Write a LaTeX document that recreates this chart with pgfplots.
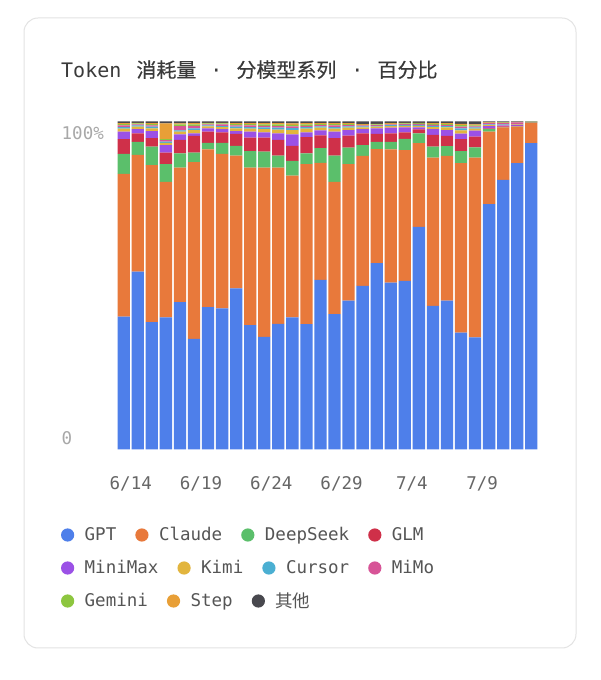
\documentclass[border=0pt]{standalone}
\usepackage{fontspec}
\setmainfont{DejaVu Sans Mono}
\newfontfamily\cjk{Noto Sans CJK SC}
\newfontfamily\cjkt[FakeBold=0.4]{Noto Sans CJK SC}
\usepackage{pgfplots}
\usepackage{pgfplotstable}
\pgfplotsset{compat=1.18}
\definecolor{cGPT}{HTML}{4E7FEA}
\definecolor{cClaude}{HTML}{E8793B}
\definecolor{cDS}{HTML}{5BBF6B}
\definecolor{cGLM}{HTML}{CF3049}
\definecolor{cMM}{HTML}{9B51E6}
\definecolor{cKimi}{HTML}{E2B53E}
\definecolor{cCur}{HTML}{4BAFD2}
\definecolor{cMiMo}{HTML}{D75497}
\definecolor{cGem}{HTML}{8DC63F}
\definecolor{cStep}{HTML}{E89F37}
\definecolor{cOth}{HTML}{48484E}
\definecolor{cTitle}{HTML}{3A3A3A}
\definecolor{cLeg}{HTML}{555555}
\definecolor{cXT}{HTML}{666666}
\definecolor{cYT}{HTML}{A8A8A8}
\definecolor{cCard}{HTML}{E3E3E3}
\pgfplotstableread{
x gpt claude ds glm mm kimi cur mimo gem step oth
0 40.5 43.5 6.1 4.5 2.3 0.9 0.5 0.5 0.4 0.3 0.5
1 54.2 35.6 4.0 2.6 1.3 0.7 0.4 0.3 0.3 0.2 0.4
2 38.8 47.9 5.6 2.6 2.2 0.8 0.5 0.4 0.4 0.3 0.5
3 40.3 41.3 5.4 3.5 2.3 0.7 0.4 0.4 0.3 4.8 0.6
4 44.9 41.0 4.4 4.1 1.7 0.8 0.4 1.3 0.5 0.3 0.6
5 33.7 53.9 2.9 5.1 0.8 1.0 0.5 0.8 0.4 0.4 0.5
6 43.4 48.1 2.0 3.4 1.0 0.6 0.3 0.3 0.3 0.2 0.4
7 43.0 47.1 3.4 3.2 1.0 0.6 0.3 0.5 0.3 0.2 0.4
8 49.1 40.5 3.0 3.6 0.9 0.8 0.5 0.4 0.4 0.3 0.5
9 37.9 48.0 5.1 4.1 1.8 0.9 0.5 0.5 0.4 0.3 0.5
10 34.3 51.6 4.9 4.3 1.6 1.0 0.5 0.5 0.4 0.4 0.5
11 38.3 47.6 3.7 4.8 2.0 1.1 0.6 0.5 0.5 0.4 0.5
12 40.3 43.2 4.5 4.6 3.5 1.3 0.6 0.5 0.5 0.4 0.6
13 38.2 48.8 3.3 4.9 1.5 1.1 0.5 0.4 0.4 0.4 0.5
14 51.7 35.7 4.5 3.9 1.5 0.8 0.4 0.4 0.3 0.3 0.5
15 41.3 40.3 8.0 5.3 2.0 0.9 0.5 0.5 0.4 0.3 0.5
16 45.4 41.6 5.0 3.7 1.7 0.7 0.4 0.4 0.3 0.3 0.5
17 49.9 39.6 3.3 3.6 1.3 0.5 0.3 0.3 0.2 0.2 0.8
18 56.8 34.8 2.2 2.4 1.7 0.5 0.3 0.2 0.2 0.2 0.7
19 50.9 40.6 2.3 2.6 1.7 0.5 0.3 0.2 0.2 0.2 0.5
20 51.4 39.9 3.4 2.0 1.5 0.5 0.3 0.2 0.2 0.2 0.4
21 67.9 25.5 3.0 1.2 0.6 0.5 0.3 0.3 0.2 0.1 0.4
22 43.8 45.2 3.3 3.6 1.8 0.6 0.4 0.3 0.3 0.2 0.5
23 45.4 44.1 3.0 3.1 1.8 0.8 0.4 0.3 0.3 0.3 0.5
24 35.6 51.7 3.7 3.6 1.7 1.0 0.6 0.5 0.5 0.4 0.7
25 34.2 54.8 3.1 3.3 1.8 0.6 0.4 0.3 0.3 0.3 0.9
26 74.8 22.1 0.8 0.2 0.7 0.3 0.2 0.4 0.1 0.1 0.3
27 82.2 16.0 0.1 0.2 0.3 0.2 0.1 0.5 0.1 0.1 0.2
28 87.3 11.1 0.1 0.2 0.3 0.1 0.1 0.5 0.1 0.05 0.15
29 93.4 6.2 0.05 0.05 0.05 0.05 0.05 0.05 0.03 0.03 0.04
}\data
\pgfplotsset{
  legrow/.style={
    hide axis, scale only axis, width=421.6bp, height=328bp,
    at={(116.7bp,230.5bp)}, anchor=south west,
    xmin=0, xmax=1, ymin=0, ymax=1,
    legend columns=-1,
    legend image code/.code={\fill (6.6bp,0bp) circle (6.6bp);},
    legend cell align=left,
    legend style={draw=none, fill=none, inner sep=0pt, outer sep=0pt,
      text=cLeg, font=\fontsize{17.5bp}{20bp}\selectfont,
      nodes={inner sep=0pt},
      /tikz/every odd column/.append style={column sep=10.5bp},
      /tikz/every even column/.append style={column sep=19bp},
      anchor=west, at={(rel axis cs:-0.1321,#1)}},
  }
}
\begin{document}
\begin{tikzpicture}
\fill[white] (0,0) rectangle (601bp,680bp);
\draw[cCard, line width=1bp, fill=white, rounded corners=14bp] (24bp,32bp) rectangle (576bp,662bp);
\node[anchor=base west, inner sep=0pt, text=cTitle, font=\fontsize{20bp}{24bp}\selectfont] at (61bp,602.7bp)
  {Token\hspace{15bp}{\cjkt 消耗量}\hspace{14bp}·\hspace{14bp}{\cjkt 分模型系列}\hspace{15bp}·\hspace{14bp}{\cjkt 百分比}};
\begin{axis}[
  at={(116.7bp,230.5bp)}, anchor=south west, scale only axis,
  width=421.6bp, height=328bp,
  ybar stacked, bar width=12.3bp,
  xmin=-0.5, xmax=29.5, ymin=0, ymax=100, enlargelimits=false,
  axis line style={draw=none}, tick style={draw=none}, major tick length=0pt,
  xtick={0.5,5.5,10.5,15.5,20.5,25.5},
  xticklabels={6/14,6/19,6/24,6/29,7/4,7/9},
  xticklabel style={anchor=base, inner sep=0pt, yshift=-39.8bp, text=cXT},
  ytick={1.6,94.5}, yticklabels={0,100\%},
  yticklabel style={anchor=base west, inner sep=0pt, xshift=-55.2bp, text=cYT},
  every tick label/.append style={font=\fontsize{17.5bp}{20bp}\selectfont},
  clip=false,
]
\addplot[fill=cGPT, draw=none] table[x=x,y=gpt]{\data};
\addplot[fill=cClaude, draw=none] table[x=x,y=claude]{\data};
\addplot[fill=cDS, draw=none] table[x=x,y=ds]{\data};
\addplot[fill=cGLM, draw=none] table[x=x,y=glm]{\data};
\addplot[fill=cMM, draw=none] table[x=x,y=mm]{\data};
\addplot[fill=cKimi, draw=none] table[x=x,y=kimi]{\data};
\addplot[fill=cCur, draw=none] table[x=x,y=cur]{\data};
\addplot[fill=cMiMo, draw=none] table[x=x,y=mimo]{\data};
\addplot[fill=cGem, draw=none] table[x=x,y=gem]{\data};
\addplot[fill=cStep, draw=none] table[x=x,y=step]{\data};
\addplot[fill=cOth, draw=none] table[x=x,y=oth]{\data};
\end{axis}
\begin{axis}[legrow=-0.2607]
\addlegendimage{fill=cGPT, draw=none}\addlegendentry{GPT}
\addlegendimage{fill=cClaude, draw=none}\addlegendentry{Claude}
\addlegendimage{fill=cDS, draw=none}\addlegendentry{DeepSeek}
\addlegendimage{fill=cGLM, draw=none}\addlegendentry{GLM}
\end{axis}
\begin{axis}[legrow=-0.3613]
\addlegendimage{fill=cMM, draw=none}\addlegendentry{MiniMax}
\addlegendimage{fill=cKimi, draw=none}\addlegendentry{Kimi}
\addlegendimage{fill=cCur, draw=none}\addlegendentry{Cursor}
\addlegendimage{fill=cMiMo, draw=none}\addlegendentry{MiMo}
\end{axis}
\begin{axis}[legrow=-0.4619]
\addlegendimage{fill=cGem, draw=none}\addlegendentry{Gemini}
\addlegendimage{fill=cStep, draw=none}\addlegendentry{Step}
\addlegendimage{fill=cOth, draw=none}\addlegendentry{{\cjk 其他}}
\end{axis}
\pgfresetboundingbox
\path (0,0) rectangle (601bp,680bp);
\end{tikzpicture}
\end{document}
